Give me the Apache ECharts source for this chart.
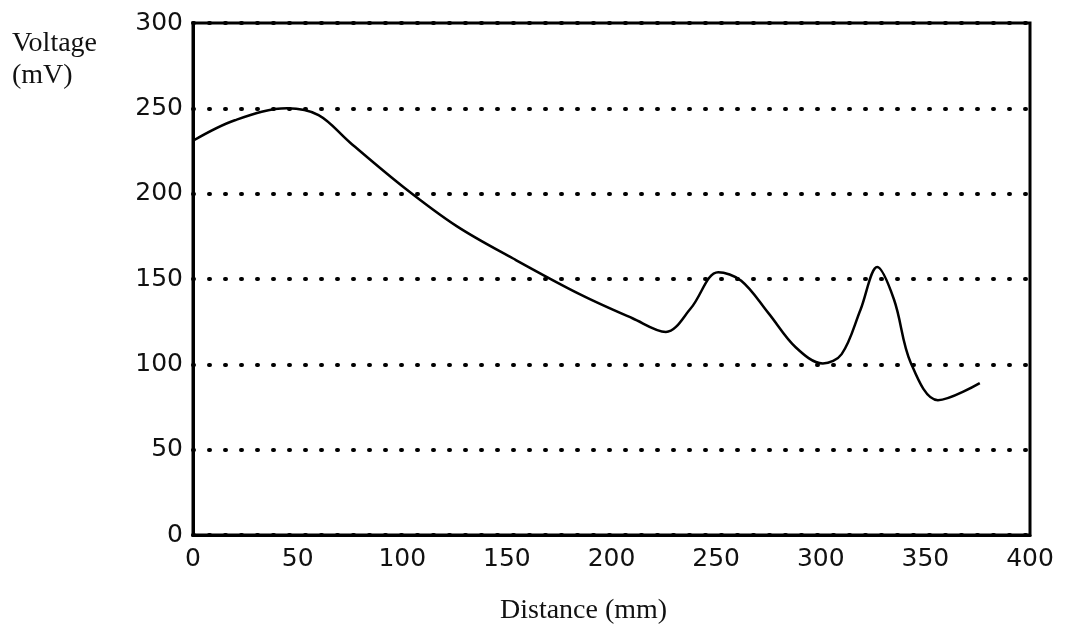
<!DOCTYPE html>
<html>
<head>
<meta charset="utf-8">
<script src="https://cdn.jsdelivr.net/npm/echarts@6/dist/echarts.min.js"></script>
<style>
html,body{margin:0;padding:0;background:#fff;}
#c{width:1067px;height:632px;}
</style>
</head>
<body>
<div id="c"></div>
<script>
// Distance (mm)
var distance = [0, 20, 45, 60, 75, 101, 126, 153, 185, 210, 226, 238, 251, 262, 275, 288, 301, 310, 319, 327, 335, 343, 356, 376];
// Voltage (mV)
var voltage  = [231, 243, 250, 246, 230, 203.5, 181, 162, 141, 127, 119, 133, 154, 149, 130, 110, 100.5, 106, 132, 157, 138, 101, 79, 89];
var xTicks = [0, 50, 100, 150, 200, 250, 300, 350, 400];
var yTicks = [0, 50, 100, 150, 200, 250, 300];

var chart = echarts.init(document.getElementById('c'), null, {renderer: 'canvas'});
var pts = distance.map(function (d, i) { return [d, voltage[i]]; });

chart.setOption({
  backgroundColor: '#ffffff',
  animation: false,
  grid: {
    left: 193, top: 23, right: 37, bottom: 97,
    show: true, borderColor: '#000', borderWidth: 3
  },
  graphic: [
    { type: 'text', left: 12, top: 30, style: { text: 'Voltage', font: '28px "Liberation Serif", "DejaVu Serif", serif', fill: '#111' } },
    { type: 'text', left: 12, top: 62, style: { text: '(mV)', font: '28px "Liberation Serif", "DejaVu Serif", serif', fill: '#111' } },
    { type: 'text', left: 500, top: 597, style: { text: 'Distance (mm)', font: '28px "Liberation Serif", "DejaVu Serif", serif', fill: '#111' } }
  ],
  xAxis: {
    type: 'value', min: 0, max: 400, interval: 50,
    axisLine: { show: true, lineStyle: { color: '#000', width: 3 } },
    axisTick: { show: false },
    splitLine: { show: false },
    axisLabel: {
      margin: 12, color: '#111', fontSize: 25, fontFamily: 'DejaVu Sans',
      formatter: function (v) { return xTicks.indexOf(v) >= 0 ? String(v) : ''; }
    }
  },
  yAxis: {
    type: 'value', min: 0, max: 300, interval: 50,
    axisLine: { show: true, lineStyle: { color: '#000', width: 3 } },
    axisTick: { show: false },
    splitLine: { show: true, lineStyle: { color: '#000', width: 4, type: [1, 15], cap: 'round' } },
    axisLabel: {
      margin: 10, color: '#111', fontSize: 25, fontFamily: 'DejaVu Sans',
      formatter: function (v) { return yTicks.indexOf(v) >= 0 ? String(v) : ''; }
    }
  },
  series: [{
    type: 'line',
    data: pts,
    smooth: 0.35,
    showSymbol: false,
    lineStyle: { color: '#000', width: 2.5 }
  }]
});
</script>
</body>
</html>
